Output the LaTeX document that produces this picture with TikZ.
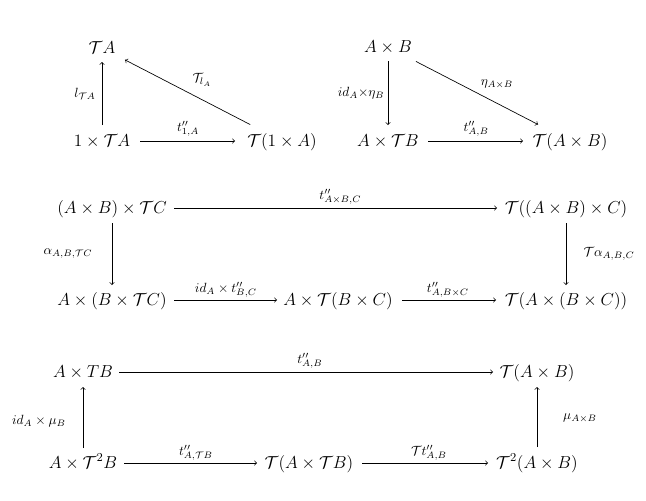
\RequirePackage{fix-cm}
\documentclass[tikz,border=0pt]{standalone}
\usepackage{amsmath}
\begin{document}
\begin{tikzpicture}[x=0.75pt,y=-0.75pt,
  obj/.style={inner sep=0pt, text height=10pt, text depth=2.5pt, font=\fontsize{13}{16}\selectfont},
  arr/.style={->, line width=0.5pt},
  lbl/.style={inner sep=0pt, font=\fontsize{10}{12}\selectfont}]
\useasboundingbox (0,0) rectangle (646,500);
% ---------- diagram 1
\node[obj] (n11) at (102,48) {$\mathcal{T}A$};
\node[obj] (n12) at (102,141) {$1\times\mathcal{T}A$};
\node[obj] (n13) at (282,141) {$\mathcal{T}(1\times A)$};
\draw[arr, shorten <=12pt, shorten >=10.5pt] (n12.center) -- node[lbl, pos=0.505, xshift=-12.75pt] {$l_{\mathcal{T}A}$} (n11.center);
\draw[arr, shorten <=28.5pt, shorten >=35.25pt] (n12.center) -- node[lbl, pos=0.478, yshift=9pt] {$t''_{1,A}$} (n13.center);
\draw[arr, shorten <=26.85pt, shorten >=19.4pt] (n13.center) -- node[lbl, pos=0.444, yshift=14.8pt] {$\mathcal{T}_{l_A}$} (n11.center);
% ---------- diagram 2
\node[obj] (n21) at (388,47) {$A\times B$};
\node[obj] (n22) at (388,141) {$A\times\mathcal{T}B$};
\node[obj] (n23) at (570,141) {$\mathcal{T}(A\times B)$};
\draw[arr, shorten <=10.5pt, shorten >=12pt] (n21.center) -- node[lbl, pos=0.489, xshift=-20.25pt] {$id_A{\times}\eta_B$} (n22.center);
\draw[arr, shorten <=30pt, shorten >=35.25pt] (n22.center) -- node[lbl, pos=0.484, yshift=9pt] {$t''_{A,B}$} (n23.center);
\draw[arr, shorten <=23.6pt, shorten >=27pt] (n21.center) -- node[lbl, pos=0.599, yshift=14.5pt] {$\eta_{A\times B}$} (n23.center);
% ---------- diagram 3
\node[obj] (n31) at (112,208) {$(A\times B)\times\mathcal{T}C$};
\node[obj] (n32) at (566,208) {$\mathcal{T}((A\times B)\times C)$};
\node[obj] (n33) at (112,300) {$A\times(B\times\mathcal{T}C)$};
\node[obj] (n34) at (338,300) {$A\times\mathcal{T}(B\times C)$};
\node[obj] (n35) at (566,300) {$\mathcal{T}(A\times(B\times C))$};
\draw[arr, shorten <=46.5pt, shorten >=51.75pt] (n31.center) -- node[lbl, pos=0.503, yshift=8.25pt] {$t''_{A\times B,C}$} (n32.center);
\draw[arr, shorten <=11.25pt, shorten >=11.25pt] (n31.center) -- node[lbl, pos=0.5, xshift=-33pt] {$\alpha_{A,B,\mathcal{T}C}$} (n33.center);
\draw[arr, shorten <=11.25pt, shorten >=11.25pt] (n32.center) -- node[lbl, pos=0.5, xshift=32.25pt] {$\mathcal{T}\alpha_{A,B,C}$} (n35.center);
\draw[arr, shorten <=46.5pt, shorten >=45.75pt] (n33.center) -- node[lbl, pos=0.504, yshift=7.5pt] {$id_A\times t''_{B,C}$} (n34.center);
\draw[arr, shorten <=48pt, shorten >=52.5pt] (n34.center) -- node[lbl, pos=0.482, yshift=7.5pt] {$t''_{A,B\times C}$} (n35.center);
% ---------- diagram 4
\node[obj] (n41) at (83,372) {$A\times TB$};
\node[obj] (n42) at (537,372) {$\mathcal{T}(A\times B)$};
\node[obj] (n43) at (83,463) {$A\times\mathcal{T}^2B$};
\node[obj] (n44) at (309,463) {$\mathcal{T}(A\times\mathcal{T}B)$};
\node[obj] (n45) at (537,463) {$\mathcal{T}^2(A\times B)$};
\draw[arr, shorten <=27pt, shorten >=33pt] (n41.center) -- node[lbl, pos=0.5, yshift=8.25pt] {$t''_{A,B}$} (n42.center);
\draw[arr, shorten <=11.25pt, shorten >=11.25pt] (n43.center) -- node[lbl, pos=0.46, xshift=-33pt] {$id_A\times\mu_B$} (n41.center);
\draw[arr, shorten <=30.75pt, shorten >=39pt] (n43.center) -- node[lbl, pos=0.5, yshift=7.5pt] {$t''_{A,\mathcal{T}B}$} (n44.center);
\draw[arr, shorten <=39.75pt, shorten >=36.75pt] (n44.center) -- node[lbl, pos=0.526, yshift=7.5pt] {$\mathcal{T}t''_{A,B}$} (n45.center);
\draw[arr, shorten <=12pt, shorten >=11.25pt] (n45.center) -- node[lbl, pos=0.495, xshift=32.25pt] {$\mu_{A\times B}$} (n42.center);
\end{tikzpicture}
\end{document}
